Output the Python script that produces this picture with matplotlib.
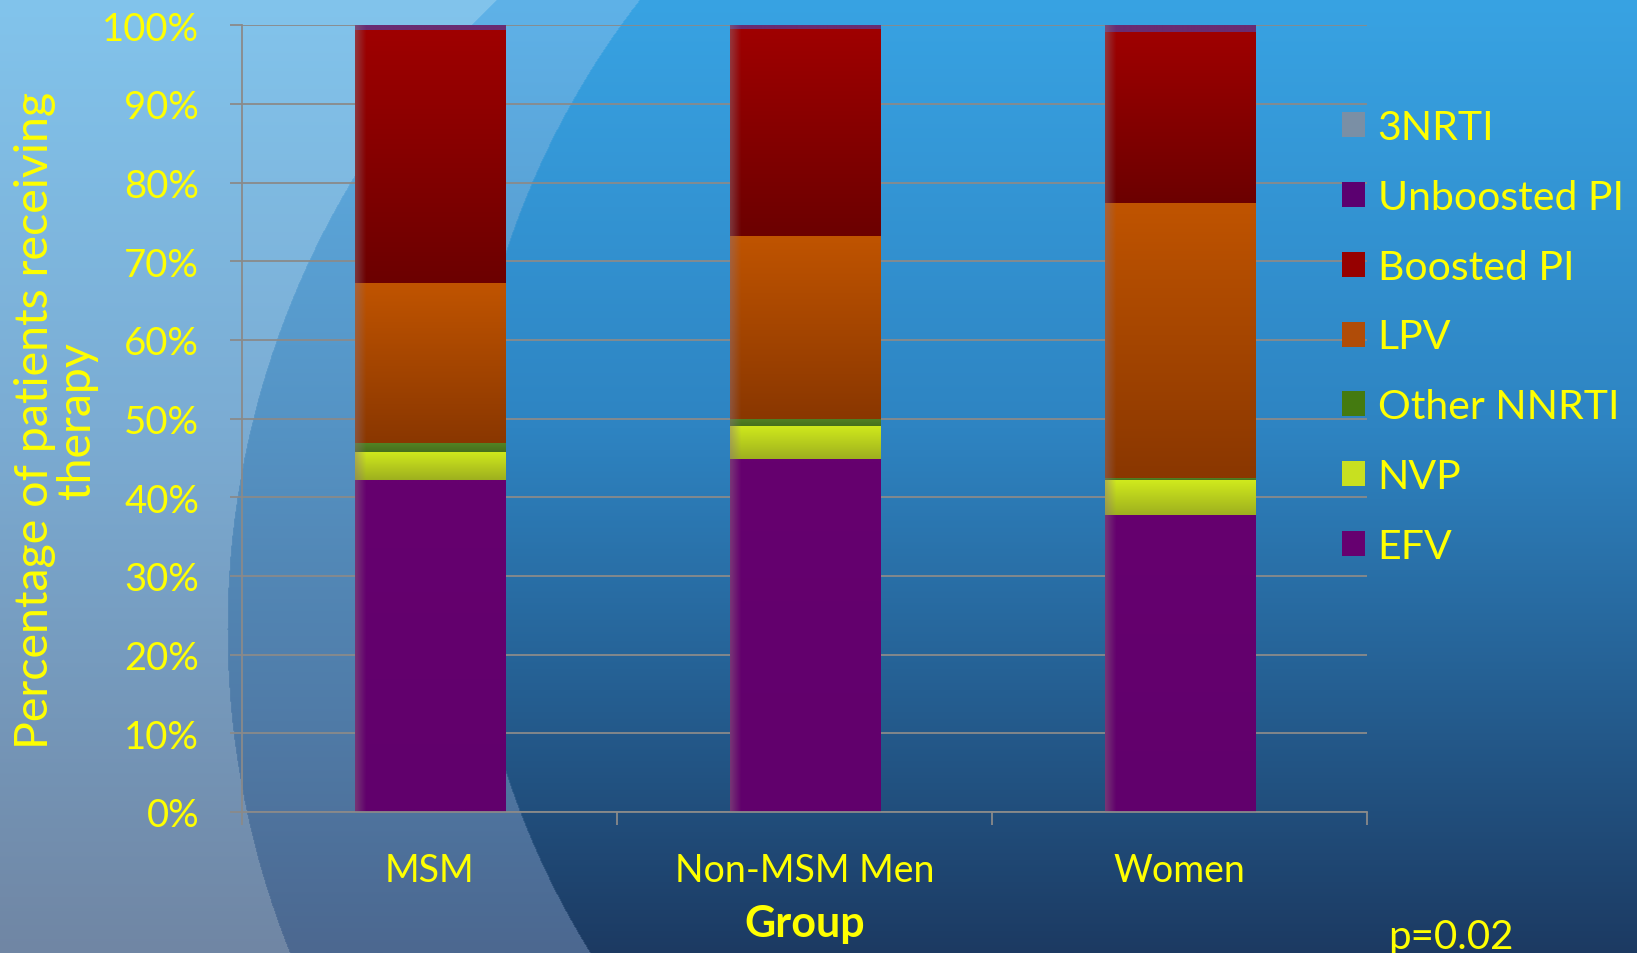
import numpy as np
import matplotlib
matplotlib.use("Agg")
import matplotlib.pyplot as plt
from matplotlib.patches import Patch
from matplotlib.colors import to_rgb

# data (percent of patients per group)
groups = ["MSM", "Non-MSM Men", "Women"]
efv = [42.2, 44.8, 37.8]
nvp = [3.6, 4.2, 4.4]
other_nnrti = [1.1, 0.9, 0.2]
lpv = [20.3, 23.3, 35.0]
boosted_pi = [32.2, 26.3, 21.7]
unboosted_pi = [0.6, 0.5, 0.9]
nrti3 = [0.0, 0.0, 0.0]

series = [
    ("EFV", efv, "#66006f", "#61006c", "#660070"),
    ("NVP", nvp, "#d0ea1c", "#9eb01f", "#c8e020"),
    ("Other NNRTI", other_nnrti, "#528224", "#47701c", "#447a10"),
    ("LPV", lpv, "#c05400", "#8a3700", "#b04c08"),
    ("Boosted PI", boosted_pi, "#9f0000", "#6c0000", "#960000"),
    ("Unboosted PI", unboosted_pi, "#6a2c72", "#6a2c72", "#5b0070"),
    ("3NRTI", nrti3, "#8298ae", "#6a7f95", "#7a8fa5"),
]

YELLOW = "#ffff00"
FONT = ["Lato", "DejaVu Sans"]
plt.rcParams["font.family"] = FONT

W, H = 1637, 953
fig = plt.figure(figsize=(W / 100 + 0.004, H / 100 + 0.008), dpi=100)

# slide background: vertical gradients split by two large arcs
yy, xx = np.mgrid[0:H, 0:W].astype(float)
t = yy / (H - 1)


def grad(stops):
    pos = [0.0, 0.45, 1.0]
    cols = np.array([to_rgb(c) for c in stops])
    return np.stack([np.interp(t, pos, cols[:, i]) for i in range(3)], axis=-1)


inner = grad(["#38a3e3", "#2e84c2", "#1c3a62"])
band = grad(["#5fb2e8", "#5593c4", "#4c6890"])
outer = grad(["#82c4ec", "#7bacd3", "#7086a4"])
d_out = np.hypot(xx - 1096, yy - 629)
d_in = np.hypot(xx - 1299, yy - 512)
bg = inner.copy()
is_band = (d_in > 835) & (xx < 1299)
bg[is_band] = band[is_band]
is_outer = (d_out > 869) & (xx < 1096)
bg[is_outer] = outer[is_outer]

bax = fig.add_axes([0, 0, 1, 1], zorder=-5)
bax.imshow(bg, aspect="auto", interpolation="bilinear")
bax.axis("off")

ax = fig.add_axes([242 / W, (H - 812) / H, (1367 - 242) / W, 786 / H])
ax.patch.set_alpha(0)

x = np.arange(len(groups))
bottom = np.zeros(len(groups))
handles = []
for name, vals, ctop, cbot, cleg in series:
    bars = ax.bar(x, vals, 0.4, bottom=bottom, color=cleg, linewidth=0, zorder=2)
    # shaded fill for each segment: darker downwards, soft left edge
    ramp = np.linspace(0, 1, 64)[:, None, None]
    img = (1 - ramp) * np.array(to_rgb(ctop)) + ramp * np.array(to_rgb(cbot))
    img = np.repeat(img, 100, axis=1)
    edge = np.clip(1 - np.arange(100) / 7.0, 0, 1)[None, :, None] * 0.45
    img = img * (1 - edge) + np.array([0.55, 0.45, 0.5]) * edge
    for b in bars:
        if b.get_height() <= 0:
            continue
        x0, y0 = b.get_x(), b.get_y()
        im = ax.imshow(img, extent=(x0, x0 + b.get_width(), y0, y0 + b.get_height()),
                       aspect="auto", origin="upper", zorder=2.1, interpolation="bilinear")
        im.set_clip_path(b)
    bottom += np.array(vals)
    handles.append(Patch(facecolor=cleg, edgecolor="none", label=name))

ax.set_xlim(-0.5, 2.5)
ax.set_ylim(0, 100)
ax.set_yticks(np.arange(0, 101, 10))
ax.set_yticklabels([f"{v}%" for v in range(0, 101, 10)])
ax.set_xticks(x)
ax.set_xticklabels(groups)
ax.set_xticks([-0.5, 0.5, 1.5, 2.5], minor=True)
ax.grid(axis="y", color="#8a8a8a", linewidth=1.3, zorder=0)
ax.set_axisbelow(True)
for s in ["top", "right"]:
    ax.spines[s].set_visible(False)
for s in ["left", "bottom"]:
    ax.spines[s].set_color("#8a8a8a")
    ax.spines[s].set_linewidth(1.3)
ax.tick_params(axis="y", colors="#8a8a8a", labelcolor=YELLOW, labelsize=27.5,
               length=9, width=1.3, pad=22)
ax.tick_params(axis="x", which="major", length=0, labelcolor=YELLOW, labelsize=27, pad=29)
ax.tick_params(axis="x", which="minor", colors="#8a8a8a", length=9, width=1.3)

fig.text(56 / W, 1 - 420 / H, "Percentage of patients receiving\ntherapy", rotation=90,
         ha="center", va="center", multialignment="center", color=YELLOW,
         fontsize=33.5, linespacing=1.0)
fig.text(804 / W, 1 - 923 / H, "Group", ha="center", va="center", color=YELLOW,
         fontsize=31, fontweight="bold")
fig.text(1451 / W, 1 - 937 / H, "p=0.02", ha="center", va="center", color=YELLOW,
         fontsize=29)

fig.legend(handles=handles[::-1], loc="upper left", bbox_to_anchor=(1342 / W, 1 - 110 / H),
           frameon=False, fontsize=29.5, labelcolor=YELLOW, handlelength=0.56, handleheight=0.56,
           handletextpad=0.3, labelspacing=0.8, borderpad=0, borderaxespad=0)

fig.savefig("out.png", dpi=100)
